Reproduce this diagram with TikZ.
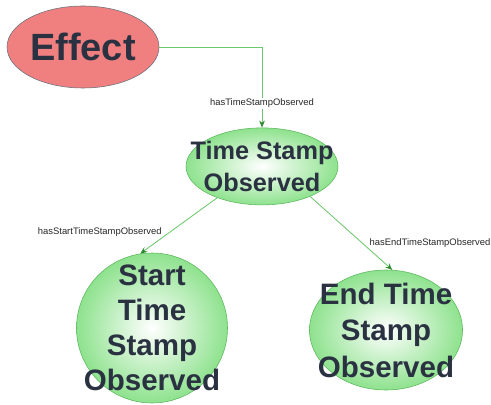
\documentclass[tikz,border=0pt]{standalone}
\usepackage{fontspec}
\setmainfont{Liberation Sans}
\usetikzlibrary{arrows.meta,shapes.geometric}
\definecolor{effect}{HTML}{F08080}
\definecolor{stamp}{HTML}{8EE28E}
\definecolor{stampedge}{HTML}{5DB85D}
\definecolor{link}{HTML}{6CC86C}
\definecolor{linktip}{HTML}{2E8B2E}
\definecolor{ink}{HTML}{2A3242}

\begin{document}
\begin{tikzpicture}[
  blob/.style={ellipse,inner sep=0pt,draw=stampedge,inner color=white,outer color=stamp},
  word/.style={text=ink,align=center,inner sep=0pt},
  rel/.style={draw=link,line width=0.6pt,-{Stealth[length=5pt,width=4pt,color=linktip]}},
  tag/.style={font=\fontsize{6.7}{7}\selectfont,text=black!85,fill=white,inner sep=1pt}
]
  \useasboundingbox (0,0) rectangle (12.275,10.1);

  % Effect
  \node[ellipse,draw=ink!70,fill=effect,inner sep=0pt,minimum width=3.8cm,minimum height=2.05cm,
        label={[word,font=\fontsize{27}{30}\selectfont\bfseries]center:Effect}] (effect) at (2.075,8.925) {};

  % Time stamps
  \node[blob,minimum width=3.8cm,minimum height=1.925cm,
        label={[word,font=\fontsize{18}{23}\selectfont\bfseries]center:Time Stamp\\Observed}] (tso) at (6.55,5.94) {};
  \node[blob,minimum width=3.775cm,minimum height=3.75cm,
        label={[word,font=\fontsize{21}{25}\selectfont\bfseries]center:Start\\Time\\Stamp\\Observed}] (start) at (3.8,1.9) {};
  \node[blob,minimum width=3.825cm,minimum height=3.0cm,
        label={[word,font=\fontsize{21}{26}\selectfont\bfseries]center:End Time\\Stamp\\Observed}] (end) at (9.65,1.85) {};

  % Links
  \draw[rel] (effect.east) -| (tso.north) node[tag,pos=0.85] {hasTimeStampObserved};
  \draw[rel] (tso.215) -- (start.99) node[tag,pos=0.62,anchor=east,fill=none,xshift=-0.15cm] {hasStartTimeStampObserved};
  \draw[rel] (tso.328) -- (end.84) node[tag,pos=0.63,anchor=west,fill=none,xshift=0.15cm] {hasEndTimeStampObserved};
\end{tikzpicture}
\end{document}
